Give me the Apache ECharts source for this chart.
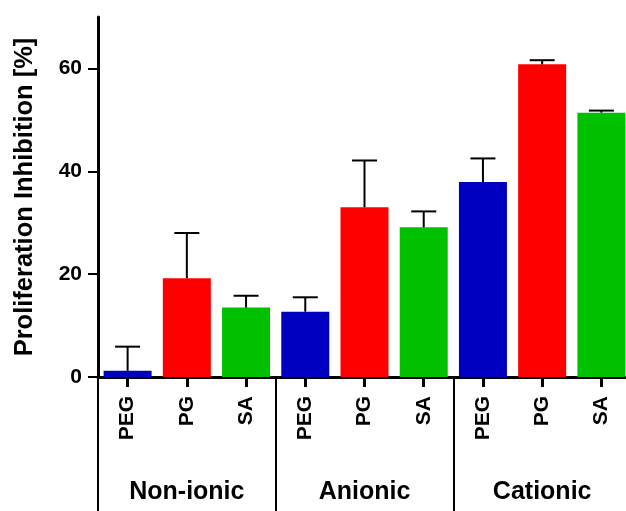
<!DOCTYPE html>
<html>
<head>
<meta charset="utf-8">
<script src="https://cdn.jsdelivr.net/npm/echarts@6/dist/echarts.min.js"></script>
<style>
  html, body { margin: 0; padding: 0; background: #fff; overflow: hidden; }
  #chart { width: 631px; height: 511px; }
</style>
</head>
<body>
<div id="chart"></div>
<script>
// categories (one bar each) and the three formulation groups
const categories = ['PEG', 'PG', 'SA', 'PEG', 'PG', 'SA', 'PEG', 'PG', 'SA'];
const groups = ['Non-ionic', 'Anionic', 'Cationic'];
// mean inhibition [%] and upper error (SD)
const values = [1.2, 19.2, 13.5, 12.7, 33.0, 29.1, 37.9, 60.8, 51.4];
const errors = [4.7, 8.8, 2.3, 2.8, 9.1, 3.1, 4.6, 0.8, 0.4];
const yTicks = [0, 20, 40, 60];

const barColors = ['#0000C0', '#FF0000', '#00C000'];
const font = 'Liberation Sans, Arial, Helvetica, sans-serif';

// plot is a bit wider than the window, the last group runs off the right edge
const chart = echarts.init(document.getElementById('chart'));

let errData = [];
for (let i = 0; i < values.length; i++) {
	errData.push([i, values[i], values[i] + errors[i]]);
}

const option = {
	animation: false,
	backgroundColor: '#fff',
	grid: { left: 98, right: 0, top: 17, bottom: 134 },
	xAxis: [
		{
			type: 'category',
			data: categories,
			position: 'bottom',
			axisLine: { show: true, lineStyle: { color: '#000', width: 3 } },
			axisTick: { show: true, alignWithLabel: true, length: 10, lineStyle: { color: '#000', width: 3 } },
			axisLabel: {
				rotate: 90, margin: 19, color: '#000',
				fontFamily: font, fontWeight: 'bold', fontSize: 21
			},
			splitLine: { show: false }
		},
		{
			// group row under the bar labels
			type: 'category',
			data: groups,
			position: 'bottom',
			offset: 0,
			axisLine: { show: false },
			axisTick: { show: true, interval: 0, length: 134, lineStyle: { color: '#000', width: 2 } },
			axisLabel: {
				margin: 115, verticalAlign: 'middle', color: '#000',
				fontFamily: font, fontWeight: 'bold', fontSize: 25
			},
			splitLine: { show: false }
		}
	],
	yAxis: {
		type: 'value',
		min: 0,
		max: 70,
		name: 'Proliferation Inhibition [%]',
		nameLocation: 'middle',
		nameGap: 60,
		nameTextStyle: { color: '#000', fontFamily: font, fontWeight: 'bold', fontSize: 25.5 },
		axisLine: { show: true, lineStyle: { color: '#000', width: 3 } },
		axisTick: { show: true, length: 10, customValues: yTicks, lineStyle: { color: '#000', width: 2 } },
		axisLabel: {
			margin: 16, color: '#000', customValues: yTicks,
			fontFamily: font, fontWeight: 'bold', fontSize: 21
		},
		splitLine: { show: false }
	},
	series: [
		{
			type: 'bar',
			xAxisIndex: 0,
			data: values,
			barWidth: 48,
			itemStyle: {
				color: function (p) { return barColors[p.dataIndex % 3]; }
			},
			z: 2
		},
		{
			type: 'custom',
			xAxisIndex: 0,
			data: errData,
			encode: { x: 0, y: [1, 2] },
			z: 3,
			renderItem: function (params, api) {
				const x = api.value(0);
				const p0 = api.coord([x, api.value(1)]);
				const p1 = api.coord([x, api.value(2)]);
				const half = 12.5;
				return {
					type: 'group',
					children: [
						{ type: 'line', shape: { x1: p0[0], y1: p0[1], x2: p1[0], y2: p1[1] }, style: { stroke: '#000', lineWidth: 2 } },
						{ type: 'line', shape: { x1: p1[0] - half, y1: p1[1], x2: p1[0] + half, y2: p1[1] }, style: { stroke: '#000', lineWidth: 2 } }
					]
				};
			}
		}
	]
};

chart.setOption(option);
</script>
</body>
</html>
